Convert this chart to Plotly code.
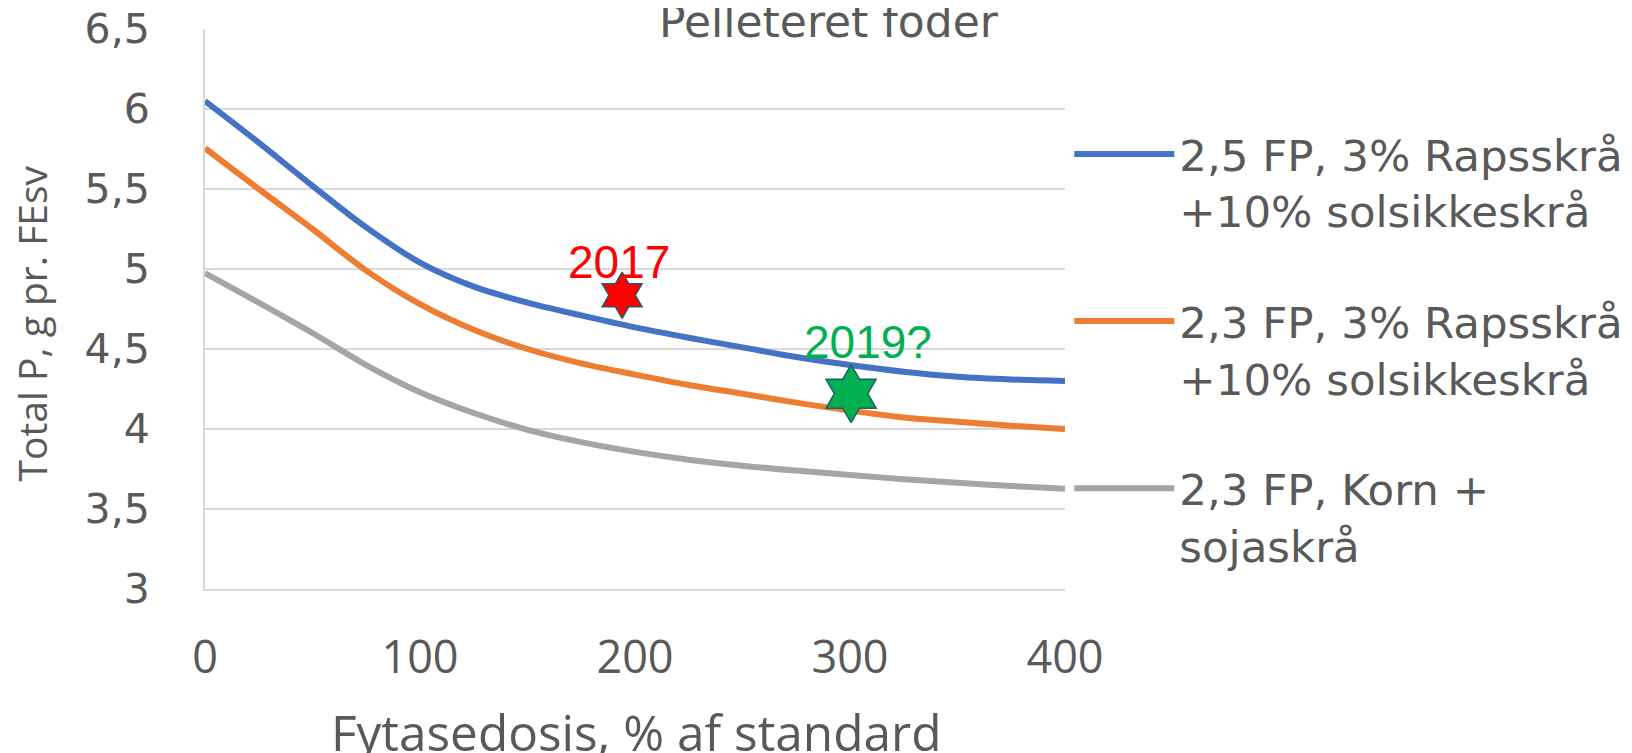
import plotly.graph_objects as go

# ---- data ----
dose = [0, 25, 50, 75, 100, 125, 150, 175, 200, 225, 250, 275, 300, 325, 350, 375, 400]
p_raps_25 = [6.05, 5.79, 5.52, 5.26, 5.04, 4.89, 4.79, 4.71, 4.635, 4.57, 4.51, 4.45, 4.40,
             4.358, 4.327, 4.31, 4.30]
p_raps_23 = [5.755, 5.50, 5.25, 4.99, 4.78, 4.62, 4.50, 4.41, 4.34, 4.275, 4.22, 4.165, 4.115,
             4.072, 4.045, 4.02, 4.00]
p_korn_23 = [4.975, 4.79, 4.60, 4.40, 4.23, 4.10, 3.995, 3.918, 3.857, 3.808, 3.77, 3.74, 3.713,
             3.686, 3.664, 3.644, 3.627]

series_names = [
    "2,5 FP, 3% Rapsskrå<br>+10% solsikkeskrå",
    "2,3 FP, 3% Rapsskrå<br>+10% solsikkeskrå",
    "2,3 FP, Korn +<br>sojaskrå",
]
series_colors = ["#4472C4", "#ED7D31", "#A5A5A5"]

year_x = [194, 300.5]
year_y = [4.836, 4.221]
year_labels = ["2017", "2019?"]
year_colors = ["#FF0000", "#00B050"]
year_sizes = [35, 44]

y_ticks = [3, 3.5, 4, 4.5, 5, 5.5, 6, 6.5]
x_ticks = [0, 100, 200, 300, 400]

TXT = "#595959"
GRID = "#D9D9D9"

# page offset (body margin) compensation: figure sits at (8, 8) in the page
OFF = 8
PL, PR, PT, PB = 197, 1057, 21, 581
W, H = 1632 - OFF, 753 - OFF
PW, PH = PR - PL, PB - PT


def px(xpage):
    return (xpage - OFF - PL) / PW


def py(ypage):
    return 1 - (ypage - OFF - PT) / PH


fig = go.Figure()
for i, (vals, name, col) in enumerate(zip([p_raps_25, p_raps_23, p_korn_23], series_names, series_colors)):
    fig.add_trace(go.Scatter(
        x=dose, y=vals, mode="lines", name=name,
        line=dict(color=col, width=6, shape="spline", smoothing=0.9),
        legendgroup=f"g{i}",
    ))

fig.add_trace(go.Scatter(
    x=year_x, y=year_y, mode="markers", showlegend=False,
    marker=dict(symbol="hexagram", size=year_sizes, color=year_colors, opacity=1,
                line=dict(color="#1F5F6B", width=1.5)),
    cliponaxis=False,
))

shifts = [(-3, 33), (17, 52)]
for xv, yv, lab, col, (dx, dy) in zip(year_x, year_y, year_labels, year_colors, shifts):
    fig.add_annotation(x=xv, y=yv, text=lab, showarrow=False, xshift=dx, yshift=dy,
                       font=dict(family="Liberation Sans, Arial", size=46, color=col))

# title
fig.add_annotation(xref="paper", yref="paper", x=px(829), y=1, yshift=-20,
                   xanchor="center", yanchor="bottom", showarrow=False,
                   text="Pelleteret foder",
                   font=dict(family="DejaVu Sans", size=44, color=TXT))
# axis titles
fig.add_annotation(xref="paper", yref="paper", x=px(31), y=py(323.5),
                   xanchor="center", yanchor="middle", showarrow=False, textangle=-90,
                   text="Total P, g pr. FEsv",
                   font=dict(family="Open Sans", size=39, color=TXT))
fig.add_annotation(xref="paper", yref="paper", x=px(636), y=py(732),
                   xanchor="center", yanchor="middle", showarrow=False,
                   text="Fytasedosis, % af standard",
                   font=dict(family="Open Sans", size=49.5, color=TXT))

fig.update_layout(
    width=W, height=H,
    margin=dict(l=PL, r=W - PR, t=PT, b=H - PB, autoexpand=False),
    paper_bgcolor="white", plot_bgcolor="white",
    separators=", ",
    showlegend=True,
    legend=dict(
        x=1.005, xanchor="left", y=0.839, yanchor="top",
        font=dict(family="DejaVu Sans", size=43.5, color=TXT),
        itemwidth=100, valign="top", tracegroupgap=51,
        bgcolor="rgba(0,0,0,0)",
    ),
    xaxis=dict(
        range=[0, 400], tickvals=x_ticks, showgrid=False, zeroline=False,
        showline=True, linecolor=GRID, linewidth=2, automargin=False,
        tickfont=dict(family="Open Sans", size=45, color=TXT),
        ticks="", ticklabelstandoff=28,
    ),
    yaxis=dict(
        range=[3, 6.5001], tickvals=y_ticks, showgrid=True, gridcolor=GRID, gridwidth=2,
        zeroline=False, showline=True, linecolor=GRID, linewidth=2, automargin=False,
        tickfont=dict(family="DejaVu Sans", size=41, color=TXT),
        ticks="", ticklabelstandoff=45, ticklabeloverflow="allow",
    ),
)

fig.write_html("out.html")
